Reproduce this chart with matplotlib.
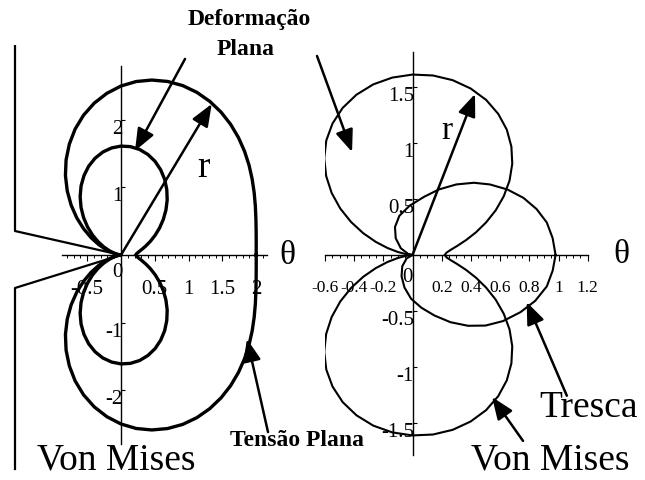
import numpy as np
import matplotlib.pyplot as plt
from matplotlib.ticker import MultipleLocator
import matplotlib.transforms as mtransforms

plt.rcParams['font.family'] = ['Liberation Serif', 'DejaVu Serif']
plt.rcParams['axes.unicode_minus'] = False

# angle around the crack tip (upper half, degrees)
theta_deg = [0, 5, 10, 15, 20, 25, 30, 35, 40, 45, 50, 55, 60, 65, 70, 75, 80, 85, 90,
             95, 100, 105, 110, 115, 120, 125, 130, 135, 140, 145, 150, 155, 160, 165, 170, 175, 180]

# normalised plastic zone radius, von Mises - plane stress
r_tensao_plana = [2.000, 2.008, 2.030, 2.066, 2.115, 2.174, 2.241, 2.313, 2.386, 2.457,
                  2.523, 2.580, 2.625, 2.655, 2.667, 2.658, 2.628, 2.576, 2.500,
                  2.401, 2.281, 2.141, 1.983, 1.809, 1.625, 1.433, 1.237, 1.043, 0.854,
                  0.674, 0.509, 0.362, 0.236, 0.135, 0.060, 0.015, 0.0]

# normalised plastic zone radius, von Mises - plane strain
r_deformacao_plana = [0.222, 0.233, 0.266, 0.319, 0.391, 0.480, 0.582, 0.696, 0.816, 0.940,
                      1.063, 1.181, 1.292, 1.390, 1.474, 1.539, 1.585, 1.609, 1.611,
                      1.590, 1.547, 1.482, 1.398, 1.296, 1.181, 1.054, 0.920, 0.783, 0.646,
                      0.514, 0.390, 0.278, 0.182, 0.104, 0.047, 0.012, 0.0]

# Tresca boundary (plane strain)
tresca_x = [0.98, 0.96, 0.92, 0.85, 0.76, 0.65, 0.53, 0.42, 0.30, 0.18, 0.08, -0.02, -0.09,
            -0.12, -0.115, -0.08, -0.03, 0.0, -0.04, -0.07, -0.075, -0.055, -0.01, 0.06,
            0.15, 0.26, 0.38, 0.50, 0.62, 0.74, 0.84, 0.92, 0.96, 0.98]
tresca_y = [0.0, 0.15, 0.29, 0.41, 0.51, 0.585, 0.63, 0.645, 0.63, 0.585, 0.52, 0.44, 0.35,
            0.25, 0.15, 0.06, 0.01, 0.0, -0.03, -0.10, -0.19, -0.29, -0.39, -0.47,
            -0.54, -0.60, -0.632, -0.63, -0.59, -0.51, -0.41, -0.28, -0.14, 0.0]

# crack outline (left plot)
notch_x = [-1.568, -1.568, 0.0, -1.568, -1.568]
notch_y = [3.09, 0.355, 0.0, -0.488, -3.166]

left_xticks = [-0.5, 0.5, 1, 1.5, 2]
left_xlabels = ['-0.5', '0.5', '1', '1.5', '2']
left_yticks = [-2, -1, 1, 2]
left_ylabels = ['-2', '-1', '1', '2']
right_xticks = [-0.6, -0.4, -0.2, 0.2, 0.4, 0.6, 0.8, 1, 1.2]
right_xlabels = ['-0.6', '-0.4', '-0.2', '0.2', '0.4', '0.6', '0.8', '1', '1.2']
right_yticks = [-1.5, -1, -0.5, 0.5, 1, 1.5]
right_ylabels = ['-1.5', '-1', '-0.5', '0.5', '1', '1.5']

W, H = 645, 481
fig = plt.figure(figsize=(W / 100, H / 100), dpi=100)


def loop(theta, r):
    t = np.radians(theta)
    r = np.asarray(r)
    x = r * np.cos(t)
    y = r * np.sin(t)
    # symmetric about the crack plane
    return np.concatenate([x, x[::-1]]), np.concatenate([y, -y[::-1]])


def place(origin, sx, sy, xlim, ylim):
    ox, oy = origin
    left = ox + xlim[0] * sx
    right = ox + xlim[1] * sx
    top = oy - ylim[1] * sy
    bottom = oy - ylim[0] * sy
    ax = fig.add_axes([left / W, (H - bottom) / H, (right - left) / W, (bottom - top) / H])
    ax.set_xlim(xlim)
    ax.set_ylim(ylim)
    return ax


def style(ax, xt, xl, yt, yl, minor, xsize):
    for s in ['top', 'right']:
        ax.spines[s].set_visible(False)
    for s in ['left', 'bottom']:
        ax.spines[s].set_position('zero')
        ax.spines[s].set_linewidth(1.0)
    ax.set_xticks(xt)
    ax.set_xticklabels(xl)
    ax.set_yticks(yt)
    ax.set_yticklabels(yl)
    ax.xaxis.set_minor_locator(MultipleLocator(minor))
    ax.tick_params(axis='x', which='major', direction='out', length=4, width=0.8, pad=13, labelsize=xsize)
    ax.tick_params(axis='x', which='minor', direction='out', length=2.5, width=0.7)
    ax.tick_params(axis='y', which='major', direction='in', length=3, width=0.8, pad=-1, labelsize=15)
    off = mtransforms.ScaledTranslation(0, -6 / 100, fig.dpi_scale_trans)
    for lbl in ax.get_yticklabels():
        lbl.set_transform(lbl.get_transform() + off)
    ax.patch.set_alpha(0)


arrow = dict(arrowstyle='-|>,head_length=0.75,head_width=0.3', mutation_scale=18,
             lw=1.8, color='black', shrinkA=0, shrinkB=0)

# left: von Mises, plane stress and plane strain
ax1 = place((121, 256), 67.6, 67.6, (-0.873, 2.16), (-2.80, 2.80))
style(ax1, left_xticks, left_xlabels, left_yticks, left_ylabels, 0.1, 15)
x, y = loop(theta_deg, r_tensao_plana)
ax1.plot(x, y, color='black', lw=2.4)
x, y = loop(theta_deg, r_deformacao_plana)
ax1.plot(x, y, color='black', lw=2.4)
ax1.plot(notch_x, notch_y, color='black', lw=1.6, clip_on=False)
ax1.text(-0.06, -0.25, '0', fontsize=15, ha='center', va='center')
ax1.annotate('', xy=(1.342, 2.234), xytext=(0, 0), arrowprops=arrow, annotation_clip=False)
ax1.annotate('', xy=(0.207, 1.54), xytext=(0.947, 2.90), arrowprops=arrow, annotation_clip=False)
ax1.annotate('', xy=(1.864, -1.243), xytext=(2.175, -2.62), arrowprops=arrow, annotation_clip=False)

# right: von Mises and Tresca, plane strain
ax2 = place((412.5, 256), 146, 112, (-0.6, 1.2), (-1.79, 1.81))
style(ax2, right_xticks, right_xlabels, right_yticks, right_ylabels, 0.05, 12.5)
x, y = loop(theta_deg, r_deformacao_plana)
ax2.plot(x, y, color='black', lw=1.5)
ax2.plot(tresca_x, tresca_y, color='black', lw=1.5)
ax2.text(-0.038, -0.19, '0', fontsize=15, ha='center', va='center')
ax2.annotate('', xy=(0.428, 1.4375), xytext=(0, 0), arrowprops=arrow, annotation_clip=False)
ax2.annotate('', xy=(-0.414, 0.92), xytext=(-0.654, 1.777), arrowprops=arrow, annotation_clip=False)
ax2.annotate('', xy=(0.782, -0.42), xytext=(1.057, -1.256), arrowprops=arrow, annotation_clip=False)
ax2.annotate('', xy=(0.545, -1.268), xytext=(0.757, -1.66), arrowprops=arrow, annotation_clip=False)


def label(px, py, s, size, weight='normal', va='baseline'):
    fig.text(px / W, 1 - py / H, s, fontsize=size, fontweight=weight, ha='center', va=va)


label(249, 25, 'Deformação', 17, 'bold')
label(246, 55, 'Plana', 17, 'bold')
label(297, 446, 'Tensão Plana', 17, 'bold')
label(116, 470, 'Von Mises', 27)
label(550, 470, 'Von Mises', 27)
label(589, 417, 'Tresca', 27)
label(287, 256, 'θ', 24, va='center')
label(621, 255, 'θ', 24, va='center')
label(203, 168, 'r', 27, va='center')
label(447, 131, 'r', 24, va='center')

fig.savefig('out.png', dpi=100)
